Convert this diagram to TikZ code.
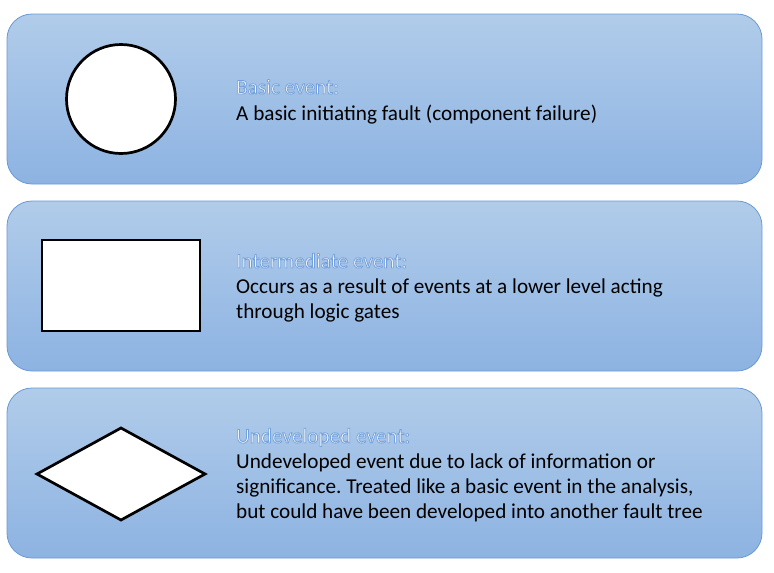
\documentclass[tikz,border=0pt]{standalone}
\usepackage{fontspec}
\setmainfont{Carlito}
\frenchspacing
\usetikzlibrary{shapes.geometric}

\definecolor{paneltop}{HTML}{B1CCEA}
\definecolor{panelbot}{HTML}{8DB3E2}
\definecolor{panelline}{HTML}{6A9AD6}

\tikzset{
  panel/.style={draw=panelline, line width=.8pt, rounded corners=25pt,
    top color=paneltop, bottom color=panelbot},
  symb/.style={draw=black, fill=white, line width=2.7pt},
  title/.style={anchor=base west, inner sep=0pt, text=white,
    font=\fontsize{21.2}{25}\selectfont},
  body/.style={anchor=north west, inner sep=0pt, align=left,
    font=\fontsize{21.2}{25}\selectfont}
}

% white letters with a thin blue rim
\newcommand{\rimtext}[1]{%
  \special{pdf:literal direct 2 Tr 0.8 w 0.45 0.63 0.86 RG}#1\special{pdf:literal direct 0 Tr}}

\begin{document}
\begin{tikzpicture}[x=1pt, y=1pt]
\useasboundingbox (0,0) rectangle (774,-573);

% panels
\draw[panel] (7,-14) rectangle (762,-184);
\draw[panel] (7,-201) rectangle (762,-371);
\draw[panel] (7,-388) rectangle (762,-558);

% symbols
\draw[symb] (121,-99) circle (54.5);
\draw[symb] (42,-240) rectangle (200,-331);
\draw[symb] (37,-474) -- (121,-428) -- (205,-474) -- (121,-520) -- cycle;

% texts
\node[title] (basic) at (236,-94) {\rimtext{Basic event:}};
\node[body] (basictxt) at (236,-105) {A basic initiating fault (component failure)};

\node[title] (inter) at (236,-268) {\rimtext{Intermediate event:}};
\node[body] (intertxt) at (236,-279) {Occurs as a result of events at a lower level acting\\through logic gates};

\node[title] (undev) at (236,-443) {\rimtext{Undeveloped event:}};
\node[body] (undevtxt) at (236,-454) {Undeveloped event due to lack of information or\\significance. Treated like a basic event in the analysis,\\but could have been developed into another fault tree};
\end{tikzpicture}
\end{document}
